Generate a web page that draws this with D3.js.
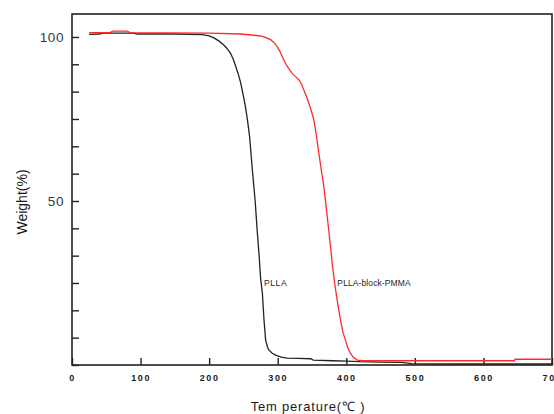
<!DOCTYPE html>
<html>
<head>
<meta charset="utf-8">
<script src="https://cdn.jsdelivr.net/npm/d3@7/dist/d3.min.js"></script>
<style>
  html, body { margin: 0; padding: 0; background: #fff; }
  svg { display: block; }
</style>
</head>
<body>
<svg id="chart" width="554" height="414"></svg>
<script>
// ---- data ----
const xTickValues = [0, 100, 200, 300, 400, 500, 600, 700];
const yTickLabels = [50, 100];
const seriesNames = ["PLLA", "PLLA-block-PMMA"];

const pllaTemp = [25, 40, 45, 90, 95, 150, 190, 200, 207, 214, 221, 226, 231, 235, 239, 243, 246, 250, 253, 256, 259, 263, 267, 270, 273, 275, 277.6, 280, 282.4, 285, 287, 292, 297, 305, 314, 330, 348, 352, 380, 400, 420, 450, 480, 495, 550, 700];
const pllaWeight = [100.8, 100.9, 101.2, 101.2, 100.9, 100.9, 100.7, 100.3, 99.7, 98.8, 97.6, 96.5, 95.1, 93.3, 90.9, 88.3, 86, 82, 78.7, 74.5, 69.6, 59.5, 50.3, 41.2, 33, 26.5, 22, 13.7, 7.6, 5.5, 4.6, 3.6, 3.0, 2.4, 2.1, 2.0, 1.9, 1.5, 1.3, 1.2, 1.0, 0.9, 0.8, 0.4, 0.3, 0.3];

const blockTemp = [25, 55, 60, 80, 85, 200, 246, 262, 275, 283, 290, 295, 299.4, 303, 306.7, 310, 314, 318, 321, 326, 331, 335, 338, 342, 345.4, 349, 352.7, 356, 360, 364, 367.2, 370, 372.2, 375, 377, 380, 383, 386.7, 391.6, 395, 398.8, 402, 406, 410, 416, 425, 500, 645, 646, 700];
const blockWeight = [101.3, 101.3, 101.8, 101.8, 101.3, 101.2, 100.9, 100.6, 100.3, 99.8, 99.1, 98.2, 97, 95.7, 94, 92.5, 91, 89.8, 88.9, 87.9, 86.9, 85.5, 83.8, 81.8, 79.8, 77.5, 74.7, 70.5, 64.5, 58.8, 54.4, 49.5, 45.2, 40, 36, 30, 25, 19.8, 13.7, 10, 7.6, 5.3, 3.6, 2.4, 1.5, 1.3, 1.3, 1.3, 1.75, 1.75];

// ---- layout ----
const svg = d3.select("#chart");
const plotLeft = 72, plotRight = 552, plotTop = 14, plotBottom = 365;

const x = d3.scaleLinear().domain([0, 700]).range([plotLeft, plotRight]);
const y = d3.scaleLinear().domain([0, 107]).range([plotBottom, plotTop]);

// y minor ticks every 50/6 units
const yTickValues = d3.range(0, 13).map(i => i * 50 / 6).filter(v => v <= 107);

// x axis ticks (inward)
const xAxis = d3.axisBottom(x).tickValues(xTickValues).tickSizeInner(-7).tickSizeOuter(0).tickFormat(d3.format("d"));
const gx = svg.append("g").attr("transform", `translate(0,${plotBottom})`).call(xAxis);
gx.select(".domain").remove();
gx.selectAll(".tick line").attr("stroke", "#222").attr("stroke-width", 1.4);
gx.selectAll(".tick text")
  .attr("y", 16)
  .attr("dy", 0)
  .attr("fill", "#1a1a1a")
  .style("font-family", "'Liberation Sans', Arial, sans-serif")
  .style("font-size", "9px")
  .style("letter-spacing", "1.6px")
  .style("font-weight", "bold");

// y axis ticks (inward)
const yAxis = d3.axisLeft(y).tickValues(yTickValues).tickSizeInner(-7).tickSizeOuter(0)
  .tickFormat(d => {
    const r = Math.round(d);
    return (Math.abs(d - r) < 1e-6 && yTickLabels.includes(r)) ? String(r) : "";
  });
const gy = svg.append("g").attr("transform", `translate(${plotLeft},0)`).call(yAxis);
gy.select(".domain").remove();
gy.selectAll(".tick line").attr("stroke", "#222").attr("stroke-width", 1.4);
gy.selectAll(".tick text")
  .attr("x", -8)
  .attr("dy", "0.36em")
  .attr("fill", "#2e3a50")
  .style("font-family", "'Liberation Sans', Arial, sans-serif")
  .style("font-size", "13.5px")
  .style("letter-spacing", "0.6px");

// frame
svg.append("rect")
  .attr("x", plotLeft).attr("y", plotTop)
  .attr("width", plotRight - plotLeft).attr("height", plotBottom - plotTop)
  .attr("fill", "none").attr("stroke", "#222").attr("stroke-width", 1.6);

// lines
const line = d3.line().x(d => x(d[0])).y(d => y(d[1]));
const plla = d3.zip(pllaTemp, pllaWeight);
const block = d3.zip(blockTemp, blockWeight);

svg.append("path").datum(plla).attr("d", line)
  .attr("fill", "none").attr("stroke", "#222").attr("stroke-width", 1.3);
svg.append("path").datum(block).attr("d", line)
  .attr("fill", "none").attr("stroke", "#ff2a2a").attr("stroke-width", 1.3);

// series labels
const labelFont = "'Liberation Sans', Arial, sans-serif";
svg.append("text").attr("x", x(280)).attr("y", y(24.2))
  .text(seriesNames[0])
  .attr("fill", "#222").style("font-family", labelFont).style("font-size", "8.5px").style("letter-spacing", "0.6px");
svg.append("text").attr("x", x(387)).attr("y", y(24.2))
  .text(seriesNames[1])
  .attr("fill", "#222").style("font-family", labelFont).style("font-size", "8.5px").style("letter-spacing", "0.1px");

// axis titles
svg.append("text")
  .attr("x", 308).attr("y", 411)
  .attr("text-anchor", "middle")
  .attr("fill", "#1a1a1a")
  .style("font-family", "'Liberation Sans', Arial, sans-serif")
  .style("font-size", "13px")
  .style("letter-spacing", "0.8px")
  .text("Tem perature(℃ )");

svg.append("text")
  .attr("transform", `translate(27,202) rotate(-90)`)
  .attr("text-anchor", "middle")
  .attr("fill", "#1a1a1a")
  .style("font-family", "'Liberation Sans', Arial, sans-serif")
  .style("font-size", "14px")
  .text("Weight(%)");
</script>
</body>
</html>
